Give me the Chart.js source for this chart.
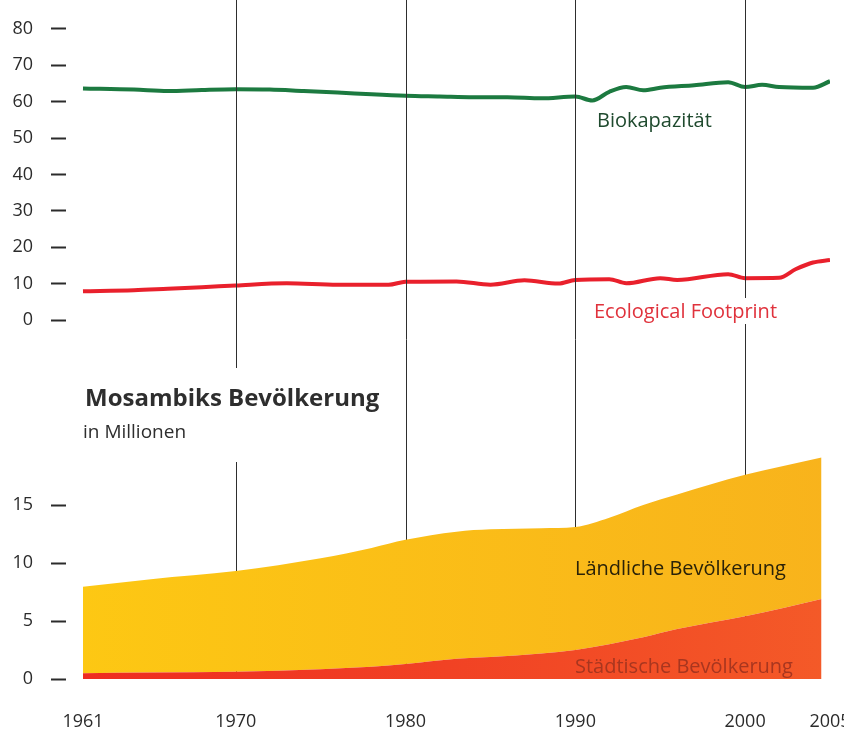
<!DOCTYPE html>
<html>
<head>
<meta charset="utf-8">
<script src="https://cdn.jsdelivr.net/npm/chart.js@4.4.1/dist/chart.umd.min.js"></script>
<style>
    body{margin:0;background:#fff;}
    #wrap{position:relative;width:844px;height:735px;}
    #wrap canvas{position:absolute;left:0;top:0;}
</style>
</head>
<body>
<div id="wrap">
    <canvas id="topChart" width="844" height="735"></canvas>
    <canvas id="popChart" width="844" height="735"></canvas>
</div>
<script>
// Biokapazität / Ecological Footprint (upper panel)
const bioYears = [1961,1964,1966,1968,1970,1972,1974,1976,1978,1980,1982,1984,1986,1988,1990,1991,1992,1993,1994,1995,1997,1999,2000,2001,2002,2004,2005]
const bioValues = [63.6,63.3,62.9,63.2,63.4,63.3,62.9,62.5,62.0,61.6,61.4,61.2,61.2,60.9,61.4,60.3,62.7,64.0,63.1,63.8,64.5,65.3,64.0,64.6,64.0,63.8,65.6]
const footYears = [1961,1964,1966,1968,1970,1973,1976,1979,1980,1983,1985,1987,1989,1990,1992,1993,1995,1996,1999,2000,2002,2003,2004,2005]
const footValues = [7.9,8.2,8.6,9.0,9.5,10.1,9.7,9.7,10.5,10.6,9.7,10.9,10.0,11.0,11.2,10.1,11.5,11.0,12.6,11.5,11.6,14.0,15.8,16.5]
const topTicks = [0,10,20,30,40,50,60,70,80]

// Mosambiks Bevölkerung in Millionen (lower panel)
const popYears = [1961,1965,1970,1975,1978,1980,1983,1985,1988,1990,1992,1994,1996,2000,2004.5]
const urbanPop = [0.5,0.55,0.63,0.85,1.05,1.3,1.75,1.9,2.2,2.5,3.0,3.6,4.3,5.4,6.9]
const ruralPop = [7.46,8.05,8.67,9.55,10.25,10.7,10.95,11.0,10.8,10.6,10.9,11.4,11.6,12.2,12.2]
const popTicks = [0,5,10,15]

const yearTicks = [1961,1970,1980,1990,2000,2005]
const decadeYears = [1970,1980,1990,2000]

Chart.defaults.font.family = "'Open Sans', sans-serif"
Chart.defaults.color = '#2b2b2b'

const toPoints = (xs, ys) => xs.map((x, i) => ({x: x, y: ys[i]}))
const setTicks = values => scale => { scale.ticks = values.map(v => ({value: v})) }

function yAxis(min, max, ticks, stacked){
    return {
        min: min, max: max, stacked: stacked,
        afterBuildTicks: setTicks(ticks),
        afterFit: scale => { scale.width = 66 },
        border: {display: false},
        grid: {drawOnChartArea: false, drawTicks: true, tickLength: 15, tickColor: '#2b2b2b', tickWidth: 2},
        ticks: {padding: 18, font: {size: 18}, color: '#2b2b2b'}
    }
}

function label(ctx, text, x, y, color, font){
    ctx.font = font
    ctx.fillStyle = color
    ctx.textAlign = 'left'
    ctx.textBaseline = 'alphabetic'
    ctx.fillText(text, x, y)
}

const topLabels = {
    id: 'topLabels',
    afterDraw(chart){
        const ctx = chart.ctx
        ctx.save()
        label(ctx, 'Biokapazität', 597, 127, '#1f4a2e', "20px 'Open Sans'")
        label(ctx, 'Ecological Footprint', 594, 318, '#e0323c', "20px 'Open Sans'")
        ctx.restore()
    }
}

new Chart(document.getElementById('topChart'), {
    type: 'line',
    data: {
        datasets: [
            {label: 'Biokapazität', data: toPoints(bioYears, bioValues), borderColor: '#1c7a40', borderWidth: 4, pointRadius: 0, cubicInterpolationMode: 'monotone'},
            {label: 'Ecological Footprint', data: toPoints(footYears, footValues), borderColor: '#e9202c', borderWidth: 4, pointRadius: 0, cubicInterpolationMode: 'monotone'}
        ]
    },
    options: {
        responsive: false, animation: false,
        layout: {padding: {top: 18, bottom: 415, left: 0, right: 14}},
        plugins: {legend: {display: false}, tooltip: {enabled: false}},
        scales: {
            x: {type: 'linear', min: 1960, max: 2005, display: false},
            y: yAxis(0, 80, topTicks, false)
        }
    },
    plugins: [topLabels]
})

// vertical decade lines, with the breaks around the texts
const lineGaps = {1970: [368, 462], 2000: [298, 324]}
const decadeLines = {
    id: 'decadeLines',
    beforeDatasetsDraw(chart){
        const ctx = chart.ctx
        const xs = chart.scales.x
        ctx.save()
        ctx.strokeStyle = '#2e2e2e'
        ctx.lineWidth = 1
        for(const yr of decadeYears){
            const px = Math.round(xs.getPixelForValue(yr)) + 0.5
            const gap = lineGaps[yr]
            ctx.beginPath()
            ctx.moveTo(px, 0)
            if(gap){
                ctx.lineTo(px, gap[0])
                ctx.moveTo(px, gap[1])
            }
            ctx.lineTo(px, chart.chartArea.bottom)
            ctx.stroke()
        }
        ctx.restore()
    },
    afterDraw(chart){
        const ctx = chart.ctx
        ctx.save()
        label(ctx, 'Mosambiks Bevölkerung', 85, 406, '#2e2e2e', "bold 24px 'Open Sans'")
        label(ctx, 'in Millionen', 83, 438, '#2e2e2e', "19px 'Open Sans'")
        label(ctx, 'Ländliche Bevölkerung', 575, 575, '#2a2208', "20px 'Open Sans'")
        label(ctx, 'Städtische Bevölkerung', 575, 673, '#a8361f', "20px 'Open Sans'")
        ctx.restore()
    }
}

function sideGradient(from, to){
    return context => {
        const area = context.chart.chartArea
        if(!area) return from
        const g = context.chart.ctx.createLinearGradient(area.left, 0, area.right, 0)
        g.addColorStop(0, from)
        g.addColorStop(1, to)
        return g
    }
}

new Chart(document.getElementById('popChart'), {
    type: 'line',
    data: {
        datasets: [
            {label: 'Städtische Bevölkerung', data: toPoints(popYears, urbanPop), fill: 'origin', backgroundColor: sideGradient('#ee2a20', '#f45a28'), borderWidth: 0, pointRadius: 0, cubicInterpolationMode: 'monotone'},
            {label: 'Ländliche Bevölkerung', data: toPoints(popYears, ruralPop), fill: '-1', backgroundColor: sideGradient('#fdc813', '#f8b31c'), borderWidth: 0, pointRadius: 0, cubicInterpolationMode: 'monotone'}
        ]
    },
    options: {
        responsive: false, animation: false,
        layout: {padding: {top: 447, bottom: 0, left: 0, right: 14}},
        plugins: {legend: {display: false}, tooltip: {enabled: false}},
        scales: {
            x: {
                type: 'linear', min: 1960, max: 2005,
                afterBuildTicks: setTicks(yearTicks),
                afterFit: scale => { scale.height = 56; scale.paddingLeft = 0; scale.paddingRight = 0 },
                border: {display: false},
                grid: {display: false},
                ticks: {padding: 24, font: {size: 18}, color: '#2b2b2b', callback: v => String(v)}
            },
            y: yAxis(0, 20, popTicks, true)
        }
    },
    plugins: [decadeLines]
})
</script>
</body>
</html>
